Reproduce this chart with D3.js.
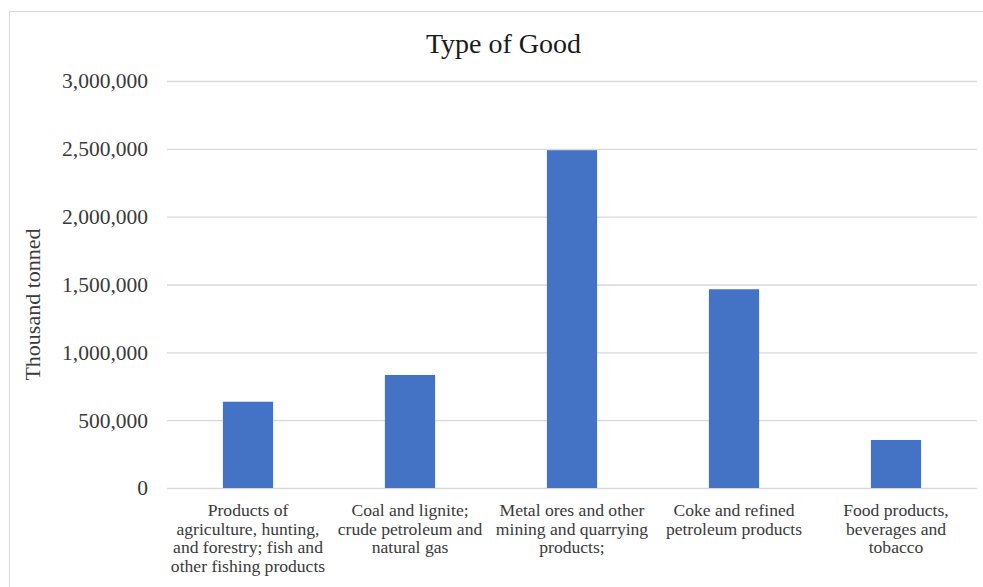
<!DOCTYPE html>
<html>
<head>
<meta charset="utf-8">
<script src="https://cdn.jsdelivr.net/npm/d3@7"></script>
<style>
  html, body { margin: 0; padding: 0; background: #fff; }
  svg { display: block; font-family: "Liberation Serif", "Times New Roman", serif; }
</style>
</head>
<body>
<svg id="chart" width="983" height="587"></svg>
<script>
// Freight carried by type of good (thousand tonnes)
const categories = [
  "Products of\nagriculture, hunting,\nand forestry; fish and\nother fishing products",
  "Coal and lignite;\ncrude petroleum and\nnatural gas",
  "Metal ores and other\nmining and quarrying\nproducts;",
  "Coke and refined\npetroleum products",
  "Food products,\nbeverages and\ntobacco"
];
const values = [636000, 833000, 2490000, 1465000, 354000];
const yTicks = [0, 500000, 1000000, 1500000, 2000000, 2500000, 3000000];
const chartTitle = "Type of Good";
const yAxisTitle = "Thousand tonned";

const serif = "'Liberation Serif', 'Times New Roman', serif";
const svg = d3.select("#chart");
const margin = { left: 167, right: 6, top: 81, bottom: 99 };
const W = 983, H = 587;

// outer chart frame
svg.append("rect")
  .attr("x", 9.5).attr("y", 11.5)
  .attr("width", 1000).attr("height", 620)
  .attr("fill", "#fff")
  .attr("stroke", "#d9d9d9").attr("stroke-width", 1);

const x = d3.scaleBand()
  .domain(categories)
  .range([margin.left, W - margin.right])
  .paddingInner(0.69).paddingOuter(0.345);

const y = d3.scaleLinear()
  .domain([0, 3000000])
  .range([H - margin.bottom, margin.top]);

// gridlines and value labels
const yAxis = d3.axisLeft(y)
  .tickValues(yTicks)
  .tickSize(-(W - margin.right - margin.left))
  .tickPadding(19)
  .tickFormat(d3.format(","));

const gy = svg.append("g")
  .attr("transform", `translate(${margin.left},0)`)
  .call(yAxis);
gy.select(".domain").remove();
gy.selectAll(".tick line").attr("stroke", "#d9d9d9").attr("stroke-width", 1.3);
gy.selectAll(".tick text")
  .attr("fill", "#3a3a3a")
  .style("font-size", "21.5px")
  .style("font-family", serif);

// bars
svg.append("g").selectAll("rect")
  .data(values)
  .join("rect")
  .attr("x", (d, i) => x(categories[i]))
  .attr("width", x.bandwidth())
  .attr("y", d => y(d))
  .attr("height", d => y(0) - y(d))
  .attr("fill", "#4472c4");

// category labels, wrapped on line breaks, set slightly wide
const xAxis = d3.axisBottom(x).tickSize(0).tickFormat("");
const gx = svg.append("g")
  .attr("transform", `translate(0,${y(0)})`)
  .call(xAxis);
gx.select(".domain").remove();
gx.selectAll(".tick").each(function(d) {
  const t = d3.select(this).append("text")
    .attr("transform", "scale(1.1,1)")
    .attr("text-anchor", "middle")
    .attr("fill", "#3a3a3a")
    .style("font-size", "16px")
    .style("font-family", serif);
  d.split("\n").forEach((line, k) => {
    t.append("tspan").attr("x", 0).attr("y", 28.5 + k * 18.4).text(line);
  });
});

// chart title
svg.append("text")
  .attr("x", 503.5).attr("y", 53)
  .attr("text-anchor", "middle")
  .attr("fill", "#1a1a1a")
  .style("font-size", "28px")
  .style("font-family", serif)
  .text(chartTitle);

// vertical axis title
svg.append("text")
  .attr("transform", `translate(40,${(y(0) + y(3000000)) / 2 + 20}) rotate(-90)`)
  .attr("text-anchor", "middle")
  .attr("fill", "#3a3a3a")
  .style("font-size", "22px")
  .style("font-family", serif)
  .text(yAxisTitle);
</script>
</body>
</html>
